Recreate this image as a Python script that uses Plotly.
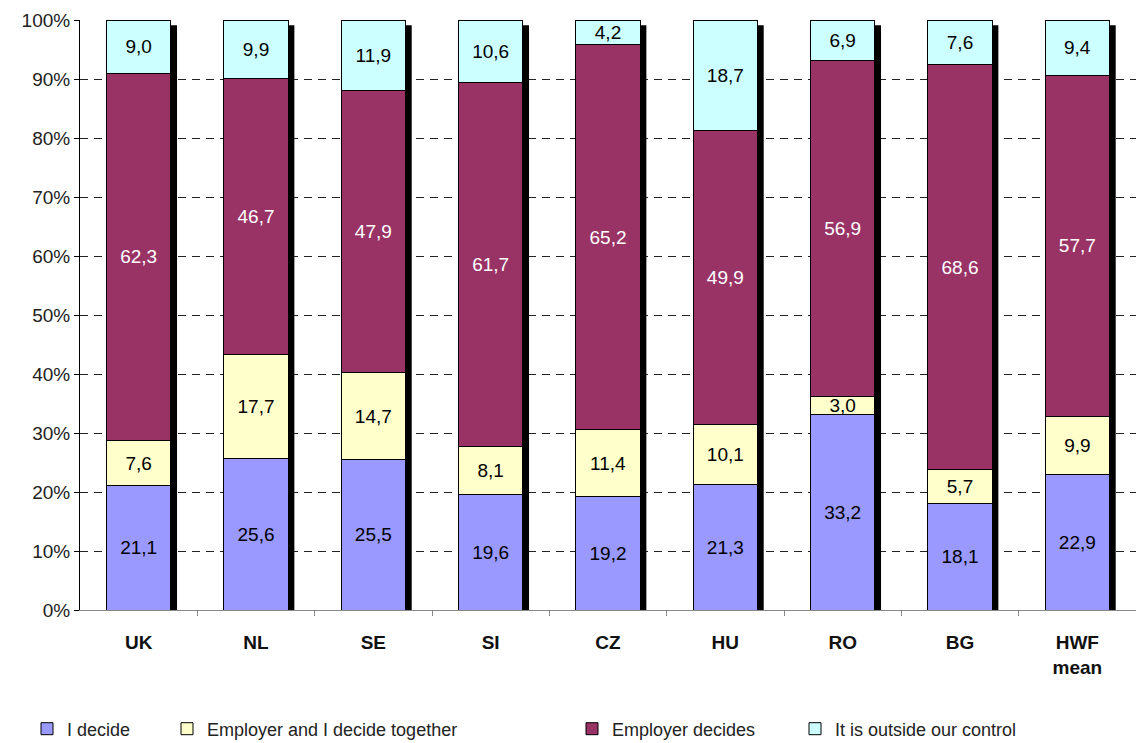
import plotly.graph_objects as go

countries = ["UK", "NL", "SE", "SI", "CZ", "HU", "RO", "BG", "HWF<br>mean"]
i_decide = [21.1, 25.6, 25.5, 19.6, 19.2, 21.3, 33.2, 18.1, 22.9]
together = [7.6, 17.7, 14.7, 8.1, 11.4, 10.1, 3.0, 5.7, 9.9]
employer = [62.3, 46.7, 47.9, 61.7, 65.2, 49.9, 56.9, 68.6, 57.7]
outside = [9.0, 9.9, 11.9, 10.6, 4.2, 18.7, 6.9, 7.6, 9.4]

series = [
    ("I decide", i_decide, "#9999FF", "black"),
    ("Employer and I decide together", together, "#FFFFCC", "black"),
    ("Employer decides", employer, "#993366", "white"),
    ("It is outside our control", outside, "#CCFFFF", "black"),
]

FONT = "Liberation Sans, Arial, sans-serif"
BAR_W = 0.55
SHADOW_DX = 0.052
SHADOW_TOP = 99.1

fig = go.Figure()
legend_names = ["legend", "legend2", "legend3", "legend4"]
for (name, vals, color, tcolor), lg in zip(series, legend_names):
    fig.add_trace(go.Bar(
        x=list(range(len(countries))),
        y=vals,
        name=name,
        width=BAR_W,
        marker=dict(color=color, line=dict(color="black", width=1)),
        text=[f"{v:.1f}".replace(".", ",") for v in vals],
        textposition="inside",
        insidetextanchor="middle",
        textangle=0,
        textfont=dict(family=FONT, size=19, color=tcolor),
        legend=lg,
        showlegend=True,
        hoverinfo="skip",
    ))

# drop shadow on the right of each column
for i in range(len(countries)):
    fig.add_shape(
        type="rect", xref="x", yref="y", layer="between",
        x0=i - BAR_W / 2 + SHADOW_DX, x1=i + BAR_W / 2 + SHADOW_DX,
        y0=0, y1=SHADOW_TOP,
        fillcolor="black", line=dict(width=0),
    )

plot_left, plot_w = 80, 1056
plot_top, plot_bottom = 20, 610
legend_y = (plot_bottom - 729) / (plot_bottom - plot_top)
legend_common = dict(
    orientation="h", yanchor="middle", y=legend_y, xanchor="left",
    font=dict(family=FONT, size=18, color="#222"),
    bgcolor="rgba(0,0,0,0)", borderwidth=0,
)
legend_left_px = [27, 167, 572, 795]
legends = {}
for lg, px in zip(legend_names, legend_left_px):
    legends[lg] = dict(legend_common, x=(px - plot_left) / plot_w)

fig.update_layout(
    barmode="stack",
    barnorm="percent",
    width=1136, height=743,
    margin=dict(l=plot_left, r=0, t=plot_top, b=743 - plot_bottom, autoexpand=False),
    paper_bgcolor="white", plot_bgcolor="white",
    uniformtext=dict(minsize=19, mode="show"),
    font=dict(family=FONT, color="#222"),
    xaxis=dict(
        range=[-0.5, len(countries) - 0.5],
        tickmode="array",
        tickvals=list(range(len(countries))),
        ticktext=countries,
        ticks="",
        tickfont=dict(family=FONT, size=19, color="#111", weight="bold"),
        ticklabelstandoff=15,
        showline=True, linecolor="#888", linewidth=1,
        showgrid=False, zeroline=False,
        minor=dict(
            tickvals=[i + 0.5 for i in range(len(countries) - 1)],
            ticks="outside", ticklen=5, tickcolor="#888", tickwidth=1,
            showgrid=False,
        ),
    ),
    yaxis=dict(
        range=[0, 100],
        tickmode="linear", tick0=0, dtick=10,
        ticksuffix="%",
        ticks="outside", ticklen=5, tickcolor="black",
        tickfont=dict(family=FONT, size=19, color="#222"),
        showline=True, linecolor="black", linewidth=1,
        showgrid=True, gridcolor="#222", gridwidth=1, griddash="8px,6px",
        zeroline=False,
    ),
    **legends,
)

fig.write_html("out.html")
